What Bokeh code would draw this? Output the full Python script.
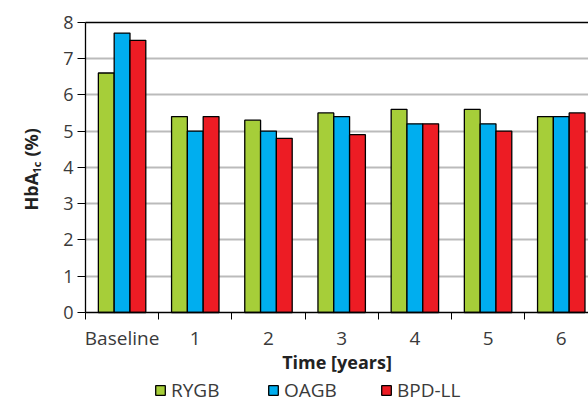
import numpy as np
from bokeh.plotting import figure
from bokeh.models import (ColumnDataSource, Range1d, FixedTicker, Label, Grid,
                          LinearAxis, Legend, LegendItem)
from bokeh.embed import file_html
from bokeh.resources import INLINE

categories = ["Baseline", "1", "2", "3", "4", "5", "6"]
series_names = ["RYGB", "OAGB", "BPD-LL"]
rygb = [6.6, 5.4, 5.3, 5.5, 5.6, 5.6, 5.4]
oagb = [7.7, 5.0, 5.0, 5.4, 5.2, 5.2, 5.4]
bpd_ll = [7.5, 5.4, 4.8, 4.9, 5.2, 5.0, 5.5]
y_ticks = [0, 1, 2, 3, 4, 5, 6, 7, 8]

colors = ["#a6ce39", "#00aeef", "#ed1c24"]
FONT = "Open Sans"

centers = np.arange(len(categories)) + 0.5
boundaries = list(range(len(categories) + 1))
bar_w = 0.216

# frame covers the whole canvas; axes are placed at fixed data locations
X0, X1 = -1.161, 6.872
Y0, Y1 = -2.508, 8.598

p = figure(width=588, height=403, output_backend="svg", toolbar_location=None,
           x_range=Range1d(X0, X1), y_range=Range1d(Y0, Y1),
           x_axis_location=None, y_axis_location=None,
           min_border_left=0, min_border_right=0, min_border_top=0,
           min_border_bottom=0)
p.outline_line_color = None
p.background_fill_color = "white"
p.border_fill_color = "white"
p.center = []

# horizontal grid lines, only across the plotting area
grid = Grid(dimension=1, ticker=FixedTicker(ticks=y_ticks[1:-1]),
            grid_line_color="#bbbbbb", grid_line_width=1.8, level="underlay")
if "cross_bounds" in Grid.properties():
    grid.cross_bounds = (0, X1)
    p.add_layout(grid)
else:
    p.segment(x0=0, x1=X1, y0=y_ticks[1:-1], y1=y_ticks[1:-1],
              line_color="#bbbbbb", line_width=1.8, level="underlay")

renderers = []
for i, (name, vals) in enumerate(zip(series_names, [rygb, oagb, bpd_ll])):
    src = ColumnDataSource(dict(x=centers + (i - 1) * bar_w, top=vals))
    r = p.vbar(x="x", top="top", width=bar_w, bottom=0, source=src,
               fill_color=colors[i], line_color="black", line_width=1.3)
    renderers.append((name, r))

# top border line at y = 8
top_ax = LinearAxis(fixed_location=y_ticks[-1], bounds=(0, X1),
                    ticker=FixedTicker(ticks=[]), axis_line_color="black",
                    axis_line_width=1.6, major_tick_line_color=None,
                    minor_tick_line_color=None)
p.add_layout(top_ax, "above")

# y axis
yax = LinearAxis(fixed_location=0, bounds=(0, y_ticks[-1]),
                 ticker=FixedTicker(ticks=y_ticks))
yax.major_tick_out = 8
yax.major_tick_in = 0
yax.minor_tick_line_color = None
yax.axis_line_color = "black"
yax.axis_line_width = 1.3
yax.major_tick_line_color = "black"
yax.major_label_text_font = FONT
yax.major_label_text_font_size = "18px"
yax.major_label_text_color = "#3a3a3a"
yax.major_label_standoff = 4
p.add_layout(yax, "left")

# x axis
xax = LinearAxis(fixed_location=0, bounds=(0, X1),
                 ticker=FixedTicker(ticks=list(centers), minor_ticks=boundaries))
xax.major_label_overrides = {float(c): lab for c, lab in zip(centers, categories)}
xax.major_tick_line_color = None
xax.major_tick_out = 7
xax.minor_tick_out = 7
xax.minor_tick_in = 0
xax.minor_tick_line_color = "black"
xax.axis_line_color = "black"
xax.axis_line_width = 1.3
xax.major_label_text_font = FONT
xax.major_label_text_font_size = "19px"
xax.major_label_text_color = "#3a3a3a"
xax.major_label_standoff = 6
xax.axis_label = "Time [years]"
xax.axis_label_text_font = FONT
xax.axis_label_text_font_style = "bold"
xax.axis_label_text_font_size = "18px"
xax.axis_label_text_color = "#222222"
xax.axis_label_standoff = -5
p.add_layout(xax, "below")

# y axis title with subscript
ax0, ay0 = -0.751, 2.81
for txt, size, dx, dy in [("HbA", "18px", 0, 0), ("1c", "11px", 6, 37), ("(%)", "18px", 0, 54)]:
    p.add_layout(Label(x=ax0, y=ay0, text=txt, angle=np.pi / 2, x_offset=dx, y_offset=dy,
                       text_font=FONT, text_font_style="bold", text_font_size=size,
                       text_color="#222222", text_align="left", text_baseline="alphabetic"))

legend = Legend(items=[LegendItem(label=n, renderers=[r]) for n, r in renderers],
                orientation="horizontal", location=(154, 0),
                glyph_width=12, glyph_height=12, label_standoff=5, label_width=80,
                spacing=16, padding=0, margin=0, border_line_color=None,
                background_fill_alpha=0,
                label_text_font=FONT, label_text_font_size="19px",
                label_text_color="#3a3a3a")
p.add_layout(legend, "center")

open("out.html", "w").write(file_html(p, INLINE))
